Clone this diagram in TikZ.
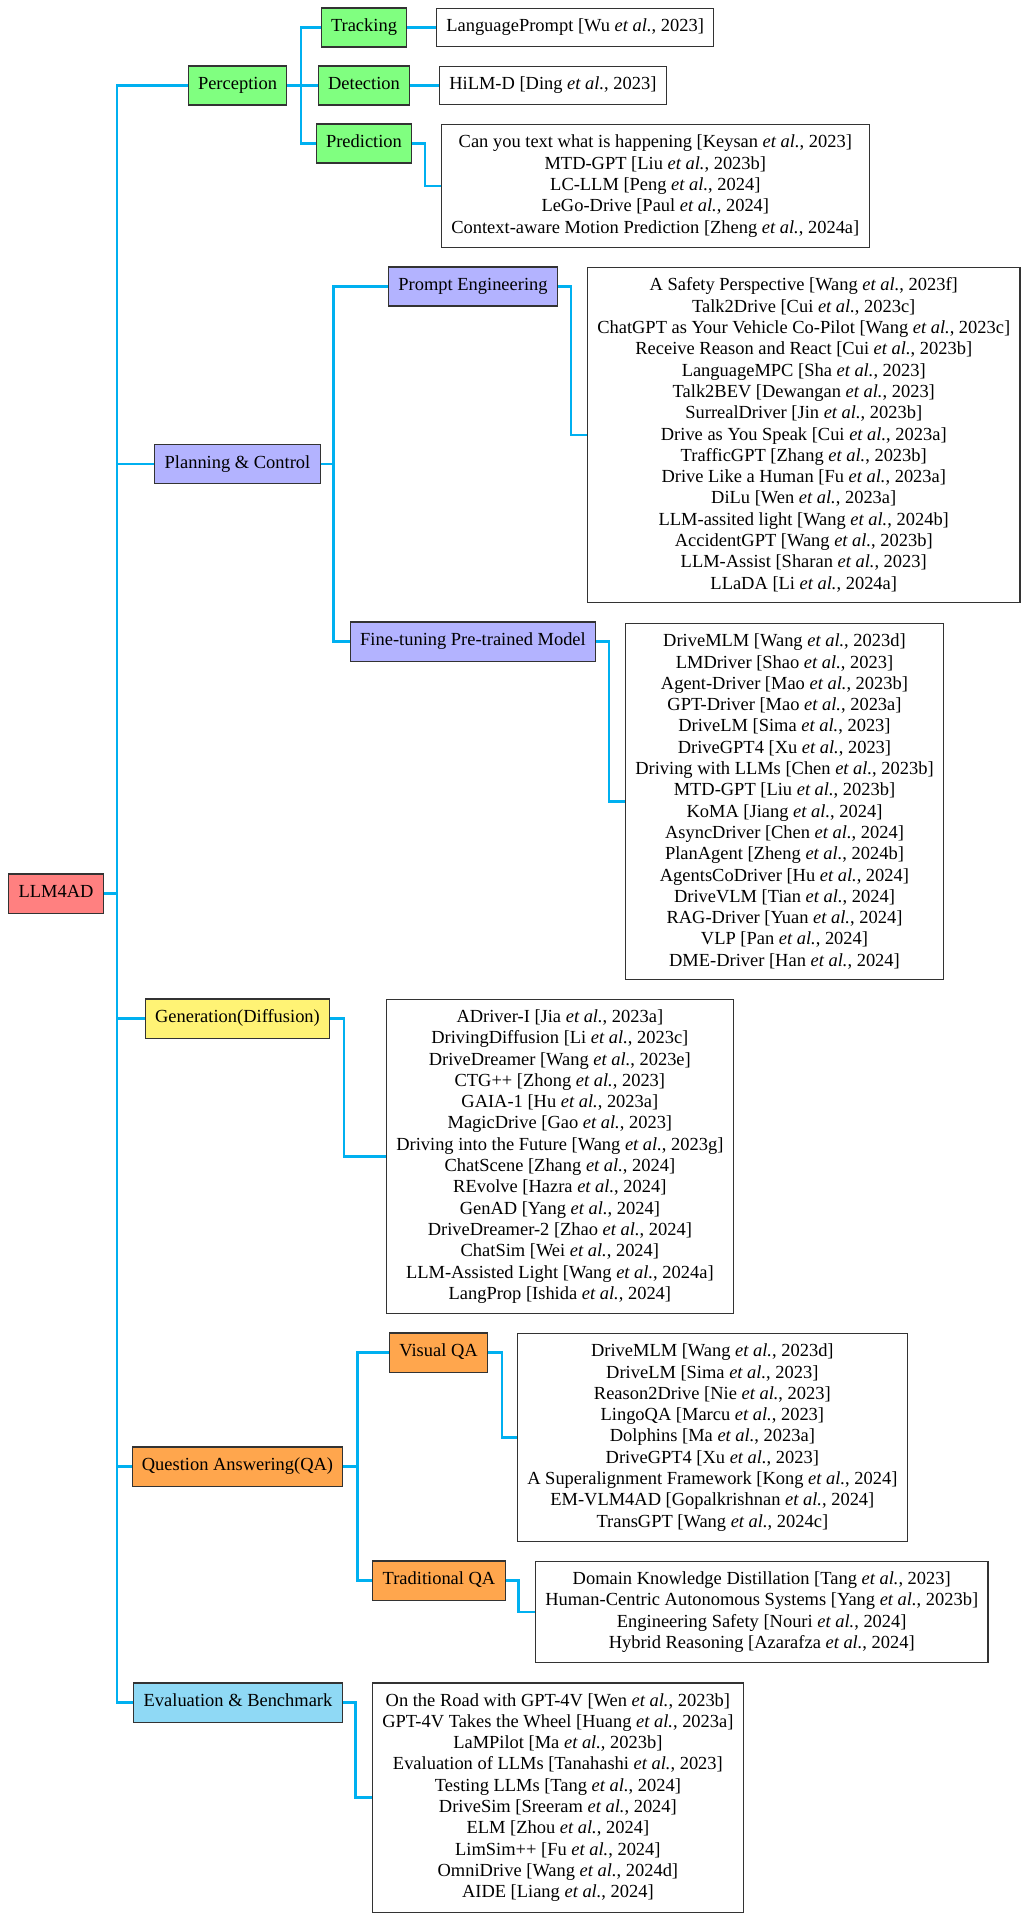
\documentclass[tikz,border=0pt]{standalone}
\usepackage{fontspec}
\setmainfont{Liberation Serif}
\newcommand{\etal}{\textit{et al.}}
\definecolor{rootred}{HTML}{FF8080}
\definecolor{percgreen}{HTML}{80FF80}
\definecolor{planblue}{HTML}{B3B3FF}
\definecolor{genyellow}{HTML}{FFF375}
\definecolor{qaorange}{HTML}{FFA64D}
\definecolor{evalblue}{HTML}{8FD9F5}
\definecolor{linkblue}{HTML}{00B0F0}

\begin{document}
\begin{tikzpicture}[x=0.5634pt, y=-0.5634pt, font=\fontsize{10.4pt}{12pt}\selectfont,
  main/.style = {draw=black!80, line width=0.6pt, minimum height=22pt, inner xsep=5.5pt, text height=7pt, text depth=2.3pt},
  leaf/.style = {draw=black!80, line width=0.6pt, fill=white, align=center, inner xsep=5.5pt, inner ysep=5.8pt, anchor=west},
  link/.style = {draw=linkblue, line width=1.3pt}]
\useasboundingbox (0,0) rectangle (1021,1913);
\node[main, fill=rootred] (llm) at (56,893.5) {LLM4AD};
\node[main, fill=percgreen] (perc) at (237.5,85.5) {Perception};
\node[main, fill=planblue] (plan) at (237.5,464) {Planning \& Control};
\node[main, fill=genyellow] (gen) at (237.5,1018.5) {Generation(Diffusion)};
\node[main, fill=qaorange] (qa) at (237.5,1466.5) {Question Answering(QA)};
\node[main, fill=evalblue] (eval) at (238,1702.5) {Evaluation \& Benchmark};
\node[main, fill=percgreen] (track) at (364,27.5) {Tracking};
\node[main, fill=percgreen] (det) at (364,85.5) {Detection};
\node[main, fill=percgreen] (pred) at (364,143.5) {Prediction};
\node[main, fill=planblue] (prompt) at (473,286.5) {Prompt Engineering};
\node[main, fill=planblue] (tune) at (473,641.5) {Fine-tuning Pre-trained Model};
\node[main, fill=qaorange] (vqa) at (438.5,1352.5) {Visual QA};
\node[main, fill=qaorange] (tqa) at (439,1580.5) {Traditional QA};
\node[leaf] (trackL) at (436,27.5) {LanguagePrompt [Wu \etal, 2023]};
\node[leaf] (detL) at (439,85.5) {HiLM-D [Ding \etal, 2023]};
\node[leaf] (predL) at (441,186) {Can you text what is happening [Keysan \etal, 2023]\\MTD-GPT [Liu \etal, 2023b]\\LC-LLM [Peng \etal, 2024]\\LeGo-Drive [Paul \etal, 2024]\\Context-aware Motion Prediction [Zheng \etal, 2024a]};
\node[leaf] (promptL) at (587,435) {A Safety Perspective [Wang \etal, 2023f]\\Talk2Drive [Cui \etal, 2023c]\\ChatGPT as Your Vehicle Co-Pilot [Wang \etal, 2023c]\\Receive Reason and React [Cui \etal, 2023b]\\LanguageMPC [Sha \etal, 2023]\\Talk2BEV [Dewangan \etal, 2023]\\SurrealDriver [Jin \etal, 2023b]\\Drive as You Speak [Cui \etal, 2023a]\\TrafficGPT [Zhang \etal, 2023b]\\Drive Like a Human [Fu \etal, 2023a]\\DiLu [Wen \etal, 2023a]\\LLM-assited light [Wang \etal, 2024b]\\AccidentGPT [Wang \etal, 2023b]\\LLM-Assist [Sharan \etal, 2023]\\LLaDA [Li \etal, 2024a]};
\node[leaf] (tuneL) at (625,801.5) {DriveMLM [Wang \etal, 2023d]\\LMDriver [Shao \etal, 2023]\\Agent-Driver [Mao \etal, 2023b]\\GPT-Driver [Mao \etal, 2023a]\\DriveLM [Sima \etal, 2023]\\DriveGPT4 [Xu \etal, 2023]\\Driving with LLMs [Chen \etal, 2023b]\\MTD-GPT [Liu \etal, 2023b]\\KoMA [Jiang \etal, 2024]\\AsyncDriver [Chen \etal, 2024]\\PlanAgent [Zheng \etal, 2024b]\\AgentsCoDriver [Hu \etal, 2024]\\DriveVLM [Tian \etal, 2024]\\RAG-Driver [Yuan \etal, 2024]\\VLP [Pan \etal, 2024]\\DME-Driver [Han \etal, 2024]};
\node[leaf] (genL) at (386,1156.5) {ADriver-I [Jia \etal, 2023a]\\DrivingDiffusion [Li \etal, 2023c]\\DriveDreamer [Wang \etal, 2023e]\\CTG++ [Zhong \etal, 2023]\\GAIA-1 [Hu \etal, 2023a]\\MagicDrive [Gao \etal, 2023]\\Driving into the Future [Wang \etal, 2023g]\\ChatScene [Zhang \etal, 2024]\\REvolve [Hazra \etal, 2024]\\GenAD [Yang \etal, 2024]\\DriveDreamer-2 [Zhao \etal, 2024]\\ChatSim [Wei \etal, 2024]\\LLM-Assisted Light [Wang \etal, 2024a]\\LangProp [Ishida \etal, 2024]};
\node[leaf] (vqaL) at (517,1437.5) {DriveMLM [Wang \etal, 2023d]\\DriveLM [Sima \etal, 2023]\\Reason2Drive [Nie \etal, 2023]\\LingoQA [Marcu \etal, 2023]\\Dolphins [Ma \etal, 2023a]\\DriveGPT4 [Xu \etal, 2023]\\A Superalignment Framework [Kong \etal, 2024]\\EM-VLM4AD [Gopalkrishnan \etal, 2024]\\TransGPT [Wang \etal, 2024c]};
\node[leaf] (tqaL) at (535,1612) {Domain Knowledge Distillation [Tang \etal, 2023]\\Human-Centric Autonomous Systems [Yang \etal, 2023b]\\Engineering Safety [Nouri \etal, 2024]\\Hybrid Reasoning [Azarafza \etal, 2024]};
\node[leaf] (evalL) at (372,1797.5) {On the Road with GPT-4V [Wen \etal, 2023b]\\GPT-4V Takes the Wheel [Huang \etal, 2023a]\\LaMPilot [Ma \etal, 2023b]\\Evaluation of LLMs [Tanahashi \etal, 2023]\\Testing LLMs [Tang \etal, 2024]\\DriveSim [Sreeram \etal, 2024]\\ELM [Zhou \etal, 2024]\\LimSim++ [Fu \etal, 2024]\\OmniDrive [Wang \etal, 2024d]\\AIDE [Liang \etal, 2024]};
\draw[link] (llm.east) -- ++(13,0) coordinate (trunk);
\foreach \n in {perc,plan,gen,qa,eval} \draw[link] (trunk) |- (\n.west);
\draw[link] (perc.east) -- ++(14,0) coordinate (pbus);
\foreach \n in {track,det,pred} \draw[link] (pbus) |- (\n.west);
\draw[link] (track.east) -- (trackL.west);
\draw[link] (det.east) -- (detL.west);
\draw[link] (pred.east) -- ++(13,0) |- (predL.west);
\draw[link] (plan.east) -- ++(13,0) coordinate (cbus);
\foreach \n in {prompt,tune} \draw[link] (cbus) |- (\n.west);
\draw[link] (prompt.east) -- ++(13,0) |- (promptL.west);
\draw[link] (tune.east) -- ++(13,0) |- (tuneL.west);
\draw[link] (gen.east) -- ++(14,0) |- (genL.west);
\draw[link] (qa.east) -- ++(14,0) coordinate (qbus);
\foreach \n in {vqa,tqa} \draw[link] (qbus) |- (\n.west);
\draw[link] (vqa.east) -- ++(14,0) |- (vqaL.west);
\draw[link] (tqa.east) -- ++(13,0) |- (tqaL.west);
\draw[link] (eval.east) -- ++(13,0) |- (evalL.west);
\end{tikzpicture}
\end{document}
